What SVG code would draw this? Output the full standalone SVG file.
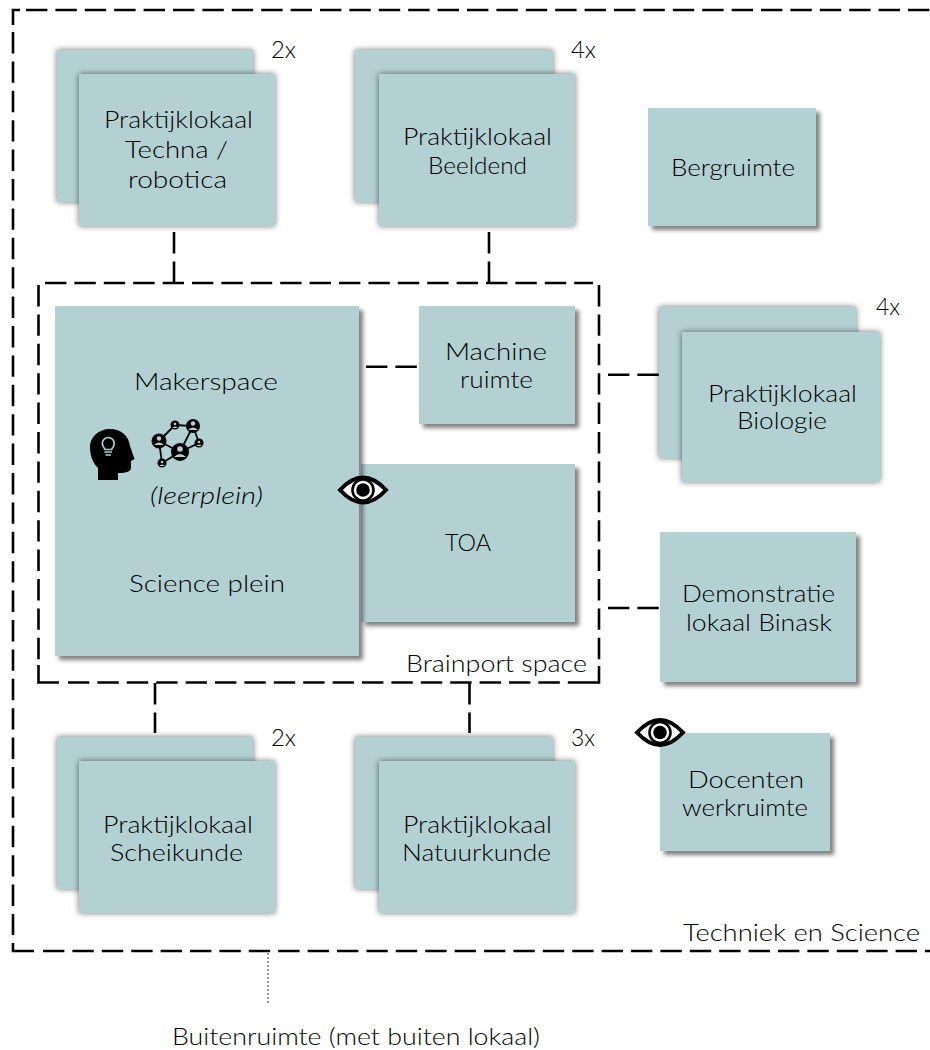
<svg xmlns="http://www.w3.org/2000/svg" xmlns:xlink="http://www.w3.org/1999/xlink" width="930" height="1050" viewBox="0 0 930 1050">
<style>
.b{fill:#b3d1d3;filter:url(#s)}
.o{fill:#b3d1d3;filter:url(#d)}
.t{font-family:"Lato","Open Sans","Liberation Sans",sans-serif;font-weight:300;font-size:23px;fill:#000}
.l{fill:none;stroke:#000;stroke-width:2.6;stroke-dasharray:21.4 8}
.c{fill:none;stroke:#000;stroke-width:2.6}
.n{fill:#000}.p{fill:#b3d1d3}
</style>
<defs>
<filter id="s" x="-15%" y="-15%" width="130%" height="130%"><feDropShadow dx="0" dy="0" stdDeviation="3" flood-color="#000" flood-opacity=".55"/></filter>
<filter id="d" x="-15%" y="-15%" width="130%" height="130%"><feDropShadow dx="4" dy="4" stdDeviation="2.2" flood-color="#000" flood-opacity=".5"/></filter>
<g id="eye"><path d="M-23 0Q0-25 23 0Q0 25-23 0Z" fill="#fff" stroke="#000" stroke-width="4"/><circle r="10.5" fill="none" stroke="#000" stroke-width="2.6"/><circle r="6.8" fill="#000"/></g>
</defs>
<g id="connectors">
<path class="c" d="M13 25V10H20M13 943V951H34M38.5 665V682.5H59M573 682.5H599V666"/>
<path class="l" d="M26 10H930M13 32V935M43 951H930M45 283H593M38.5 285V660M599 285V661M68 682.5H573"/>
<path class="l" d="M174 232V283M489 232V283M155 683V733M469.500 683V733M366 366.700H418M608 374.700H659M608 608H659"/>
<path d="M268 953V1004" fill="none" stroke="#999" stroke-width="2" stroke-dasharray="2 2"/>
</g>
<g id="n1"><rect class="b" x="57" y="50" width="196" height="152"/><rect class="b" x="79" y="74" width="196" height="152"/><text class="t" x="104" y="128" textLength="149" lengthAdjust="spacingAndGlyphs">Praktijklokaal</text><text class="t" x="125" y="158" textLength="103" lengthAdjust="spacingAndGlyphs">Techna /</text><text class="t" x="128" y="188" textLength="99" lengthAdjust="spacingAndGlyphs">robotica</text><text class="t" x="271" y="58" textLength="25" lengthAdjust="spacingAndGlyphs">2x</text></g>
<g id="n2"><rect class="b" x="355" y="50" width="198" height="152"/><rect class="b" x="379" y="74" width="196" height="152"/><text class="t" x="403" y="145" textLength="149" lengthAdjust="spacingAndGlyphs">Praktijklokaal</text><text class="t" x="428" y="174" textLength="99" lengthAdjust="spacingAndGlyphs">Beeldend</text><text class="t" x="571" y="58" textLength="25" lengthAdjust="spacingAndGlyphs">4x</text></g>
<g id="n3"><rect class="o" x="648" y="108" width="168" height="118"/><text class="t" x="671" y="176" textLength="124" lengthAdjust="spacingAndGlyphs">Bergruimte</text></g>
<g id="n4"><rect class="o" x="361" y="464" width="214" height="158"/><text class="t" x="445" y="551" textLength="46" lengthAdjust="spacingAndGlyphs">TOA</text></g>
<g id="n5"><rect class="o" x="55" y="306" width="304" height="350"/><text class="t" x="134" y="390" textLength="144" lengthAdjust="spacingAndGlyphs">Makerspace</text><text class="t" x="150" y="504" textLength="113" lengthAdjust="spacingAndGlyphs" font-style="italic">(leerplein)</text><text class="t" x="129" y="592" textLength="156" lengthAdjust="spacingAndGlyphs">Science plein</text>
<g id="head"><path class="n" d="M98 480V468C93 463 90 456 90 447C90 437 99 429 110 429C121 429 129 436 130 446L134.500 459L131 461V468C131 471 127 473 118 473V480Z"/><path d="M105 449.500C103.500 447.500 102.300 445.800 102.300 443.500A6 6 0 1 1 114.300 443.500C114.300 445.800 113 447.500 111.500 449.500Z" fill="none" stroke="#b3d1d3" stroke-width="1.7"/><path d="M104.500 452H112M105.500 455H111" stroke="#b3d1d3" stroke-width="1.5"/></g>
<g id="network"><path d="M159 441L175 425L193 426L180 452L159 441L162 463L180 452L199 443L193 426" fill="none" stroke="#000" stroke-width="1.800"/>
<circle class="n" cx="159" cy="441" r="7.500"/><circle class="p" cx="159" cy="438.500" r="2.200"/><path class="p" d="M154 445Q159 440 164 445Z"/>
<circle class="n" cx="175" cy="425" r="4.500"/><circle class="p" cx="175" cy="424" r="1.300"/><path class="p" d="M172 428Q175 425 178 428Z"/>
<circle class="n" cx="193" cy="426" r="7"/><circle class="p" cx="193" cy="423.500" r="2.200"/><path class="p" d="M188 430Q193 425 198 430Z"/>
<circle class="n" cx="199" cy="443" r="4.500"/><circle class="p" cx="199" cy="442" r="1.300"/><path class="p" d="M196 446Q199 443 202 446Z"/>
<circle class="n" cx="180" cy="452" r="9"/><circle class="p" cx="180" cy="449" r="2.800"/><path class="p" d="M174 457Q180 451 186 457Z"/>
<circle class="n" cx="162" cy="463" r="4.500"/><circle class="p" cx="162" cy="462" r="1.300"/><path class="p" d="M159 466Q162 463 165 466Z"/></g>
</g>
<g id="n6"><rect class="o" x="419" y="306" width="156" height="118"/><text class="t" x="445" y="360" textLength="102" lengthAdjust="spacingAndGlyphs">Machine</text><text class="t" x="460" y="388" textLength="73" lengthAdjust="spacingAndGlyphs">ruimte</text></g>
<g id="n7"><rect class="b" x="659" y="307" width="197" height="151"/><rect class="b" x="682" y="332" width="198" height="150"/><text class="t" x="708" y="402" textLength="149" lengthAdjust="spacingAndGlyphs">Praktijklokaal</text><text class="t" x="737" y="429" textLength="90" lengthAdjust="spacingAndGlyphs">Biologie</text><text class="t" x="876" y="315" textLength="24" lengthAdjust="spacingAndGlyphs">4x</text></g>
<g id="n8"><rect class="o" x="660" y="532" width="196" height="150"/><text class="t" x="682" y="602" textLength="153" lengthAdjust="spacingAndGlyphs">Demonstratie</text><text class="t" x="686" y="631" textLength="146" lengthAdjust="spacingAndGlyphs">lokaal Binask</text></g>
<g id="n9"><rect class="b" x="57" y="737" width="196" height="152"/><rect class="b" x="79" y="761" width="196" height="152"/><text class="t" x="103" y="833" textLength="150" lengthAdjust="spacingAndGlyphs">Praktijklokaal</text><text class="t" x="110" y="861" textLength="133" lengthAdjust="spacingAndGlyphs">Scheikunde</text><text class="t" x="271" y="746" textLength="25" lengthAdjust="spacingAndGlyphs">2x</text></g>
<g id="n10"><rect class="b" x="355" y="737" width="198" height="152"/><rect class="b" x="379" y="761" width="196" height="152"/><text class="t" x="403" y="833" textLength="149" lengthAdjust="spacingAndGlyphs">Praktijklokaal</text><text class="t" x="402" y="861" textLength="149" lengthAdjust="spacingAndGlyphs">Natuurkunde</text><text class="t" x="571" y="746" textLength="24" lengthAdjust="spacingAndGlyphs">3x</text></g>
<g id="n11"><rect class="o" x="660" y="733" width="170" height="118"/><text class="t" x="688" y="788" textLength="116" lengthAdjust="spacingAndGlyphs">Docenten</text><text class="t" x="682" y="816" textLength="126" lengthAdjust="spacingAndGlyphs">werkruimte</text></g>
<use xlink:href="#eye" href="#eye" x="363" y="490"/>
<use xlink:href="#eye" href="#eye" x="660" y="732.500"/>
<text class="t" x="406" y="672" textLength="181" lengthAdjust="spacingAndGlyphs">Brainport space</text>
<text class="t" x="683" y="941" textLength="237" lengthAdjust="spacingAndGlyphs">Techniek en Science</text>
<text class="t" x="172" y="1045" textLength="368" lengthAdjust="spacingAndGlyphs">Buitenruimte (met buiten lokaal)</text>
</svg>
